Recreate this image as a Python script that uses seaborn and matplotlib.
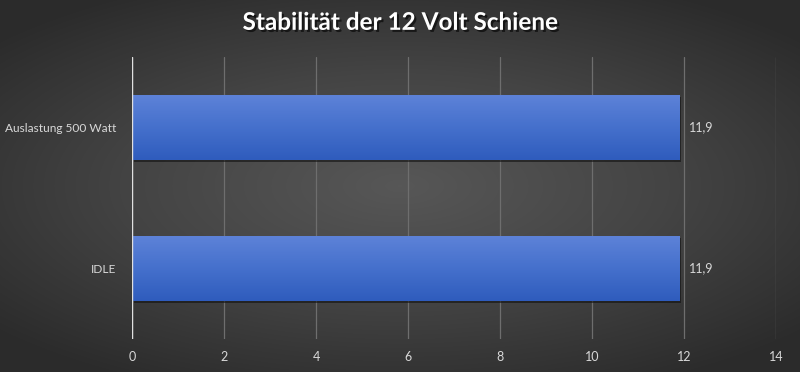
import numpy as np
import matplotlib
matplotlib.use("Agg")
import matplotlib.pyplot as plt
import matplotlib.patheffects as pe
from matplotlib.colors import LinearSegmentedColormap
import seaborn as sns
import pandas as pd

# Daten
kategorien = ["Auslastung 500 Watt", "IDLE"]
werte = [11.9, 11.9]
wert_labels = ["11,9", "11,9"]
x_ticks = [0, 2, 4, 6, 8, 10, 12, 14]

df = pd.DataFrame({"Kategorie": kategorien, "Wert": werte})

sns.set_style("dark")
plt.rcParams["font.family"] = ["Lato", "DejaVu Sans"]

fig = plt.figure(figsize=(8, 3.72), dpi=100)

# Hintergrund mit radialem Verlauf
bg = fig.add_axes([0, 0, 1, 1], zorder=-10)
yy, xx = np.mgrid[-1:1:372j, -1:1:800j]
r = np.sqrt((xx / 1.0) ** 2 + (yy / 0.9) ** 2)
bg_cmap = LinearSegmentedColormap.from_list("bg", ["#575757", "#444444", "#2b2b2b"])
bg.imshow(r, cmap=bg_cmap, aspect="auto", extent=[0, 1, 0, 1], vmin=0, vmax=1.35)
bg.axis("off")

ax = fig.add_axes([0.165, 0.089, 0.805, 0.758])
ax.patch.set_alpha(0)

sns.barplot(ax=ax, data=df, x="Wert", y="Kategorie", orient="h",
            width=0.46, color="#3f68c8", edgecolor="none", zorder=3)

# Farbverlauf auf den Balken
bar_cmap = LinearSegmentedColormap.from_list("bar", ["#5d82d8", "#4570cc", "#2f5cbd"])
grad = np.linspace(0, 1, 100).reshape(-1, 1)
for p in ax.patches:
    x0, y0 = p.get_x(), p.get_y()
    w, h = p.get_width(), p.get_height()
    p.set_path_effects([pe.SimplePatchShadow(offset=(1.5, -1.5), shadow_rgbFace="#111111", alpha=0.6), pe.Normal()])
    im = ax.imshow(grad, cmap=bar_cmap, aspect="auto", extent=[x0, x0 + w, y0 + h, y0], zorder=4)
    im.set_clip_path(p)

for i, lab in enumerate(wert_labels):
    ax.text(werte[i] + 0.2, i, lab, va="center", ha="left", color="#d8d8d8", fontsize=9)

ax.set_xlim(0, 14)
ax.set_ylim(1.5, -0.5)
ax.set_xticks(x_ticks)
ax.set_xticklabels([str(t) for t in x_ticks], color="#d8d8d8", fontsize=9)
ax.tick_params(axis="y", colors="#d8d8d8", labelsize=8.6, length=0, pad=11)
ax.tick_params(axis="x", length=0, pad=9)
ax.set_xlabel("")
ax.set_ylabel("")
ax.grid(axis="x", color="#6e6e6e", linewidth=0.9, zorder=0)
ax.grid(axis="y", visible=False)
for s in ax.spines.values():
    s.set_visible(False)
ax.axvline(0, color="#e0e0e0", linewidth=1.0, zorder=5)

fig.text(0.5, 0.94, "Stabilität der 12 Volt Schiene", ha="center", va="center",
         color="white", fontsize=17.5, fontweight="bold",
         path_effects=[pe.withSimplePatchShadow(offset=(1.5, -1.5), shadow_rgbFace="black", alpha=0.6)])

fig.savefig("out.png", dpi=100)
